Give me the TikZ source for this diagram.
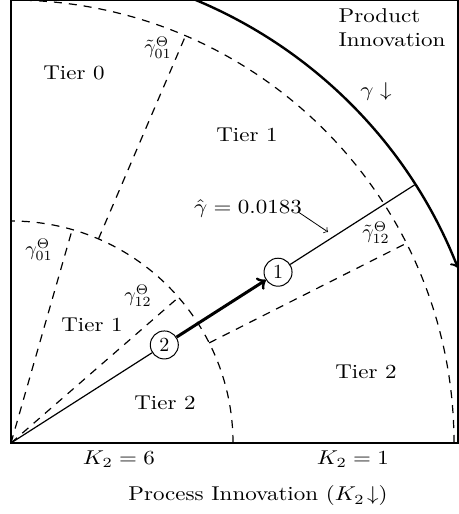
\documentclass[tikz,border=0pt]{standalone}
\usepackage{fontspec}
\usepackage{graphicx}
\usetikzlibrary{calc}
\newcommand{\sx}[1]{\scalebox{1.15}[1]{#1}}
\begin{document}
\begin{tikzpicture}[x=0.5pt,y=0.5pt,
  lbl/.style={font=\fontsize{10}{12}\selectfont\addfontfeatures{LetterSpace=8}, inner sep=1pt},
  mth/.style={font=\fontsize{10}{12}\selectfont, inner sep=1pt},
  dsh/.style={dash pattern=on 4pt off 3.5pt, line width=0.6pt},
  circ/.style={circle, draw, line width=0.5pt, minimum size=14pt, inner sep=0pt, fill=white, font=\fontsize{10}{12}\selectfont}]
\useasboundingbox (-11,-71) rectangle (448,443);
\coordinate (O) at (0,0);
% frame
\draw[line width=0.9pt] (0,0) rectangle (447,443);
% tier arcs
\draw[dsh] (222,0) arc[start angle=0, end angle=90, radius=222];
\draw[dsh] (443,0) arc[start angle=0, end angle=90, radius=443];
% tier boundaries
\draw[dsh] (O) -- (74:222);
\draw[dsh] (66.8:222) -- (66.8:443);
\draw[dsh] (O) -- (41:222);
\draw[dsh] (26.8:222) -- (26.8:443);
% product innovation frontier
\draw[line width=1.2pt, ->] (67.4:480) arc[start angle=67.4, end angle=21.4, radius=480];
% path
\node[circ] (c2) at (32.6:182) {2};
\node[circ] (c1) at (32.6:317) {1};
\coordinate (E) at (32.6:479);
\draw[line width=0.6pt] (O) -- (c2);
\draw[line width=1.5pt, ->] (c2) -- (c1);
\draw[line width=0.6pt] (c1) -- (E);
% labels
\node[lbl] (t0) at (63,370) {\sx{Tier 0}};
\node[lbl] (t1a) at (236,308) {\sx{Tier 1}};
\node[lbl] (t1b) at (81,118) {\sx{Tier 1}};
\node[lbl] (t2a) at (154,40) {\sx{Tier 2}};
\node[lbl] (t2b) at (355,71) {\sx{Tier 2}};
\node[lbl, align=left] (pi) at (381,415) {\sx{Product}\\\sx{Innovation}};
\node[mth] (gd) at (365,351) {\sx{$\gamma\downarrow$}};
\node[mth] (g01t) at (147,395) {$\tilde\gamma_{01}^{\Theta}$};
\node[mth] (g12t) at (365,210) {$\tilde\gamma_{12}^{\Theta}$};
\node[mth] (g01) at (28,193) {$\gamma_{01}^{\Theta}$};
\node[mth] (g12) at (127,147) {$\gamma_{12}^{\Theta}$};
\node[mth] (gh) at (237,234) {\sx{$\hat\gamma = 0.0183$}};
\coordinate (gt) at (317,211);
\draw[line width=0.4pt, ->] ($(gh.east)+(-6,-3)$) -- (gt);
\node[mth] (k6) at (108,-16) {\sx{$K_2 = 6$}};
\node[mth] (k1) at (342,-16) {\sx{$K_2 = 1$}};
\node[lbl] (proc) at (247,-53) {\sx{Process Innovation ($K_2\!\downarrow$)}};
\end{tikzpicture}
\end{document}
